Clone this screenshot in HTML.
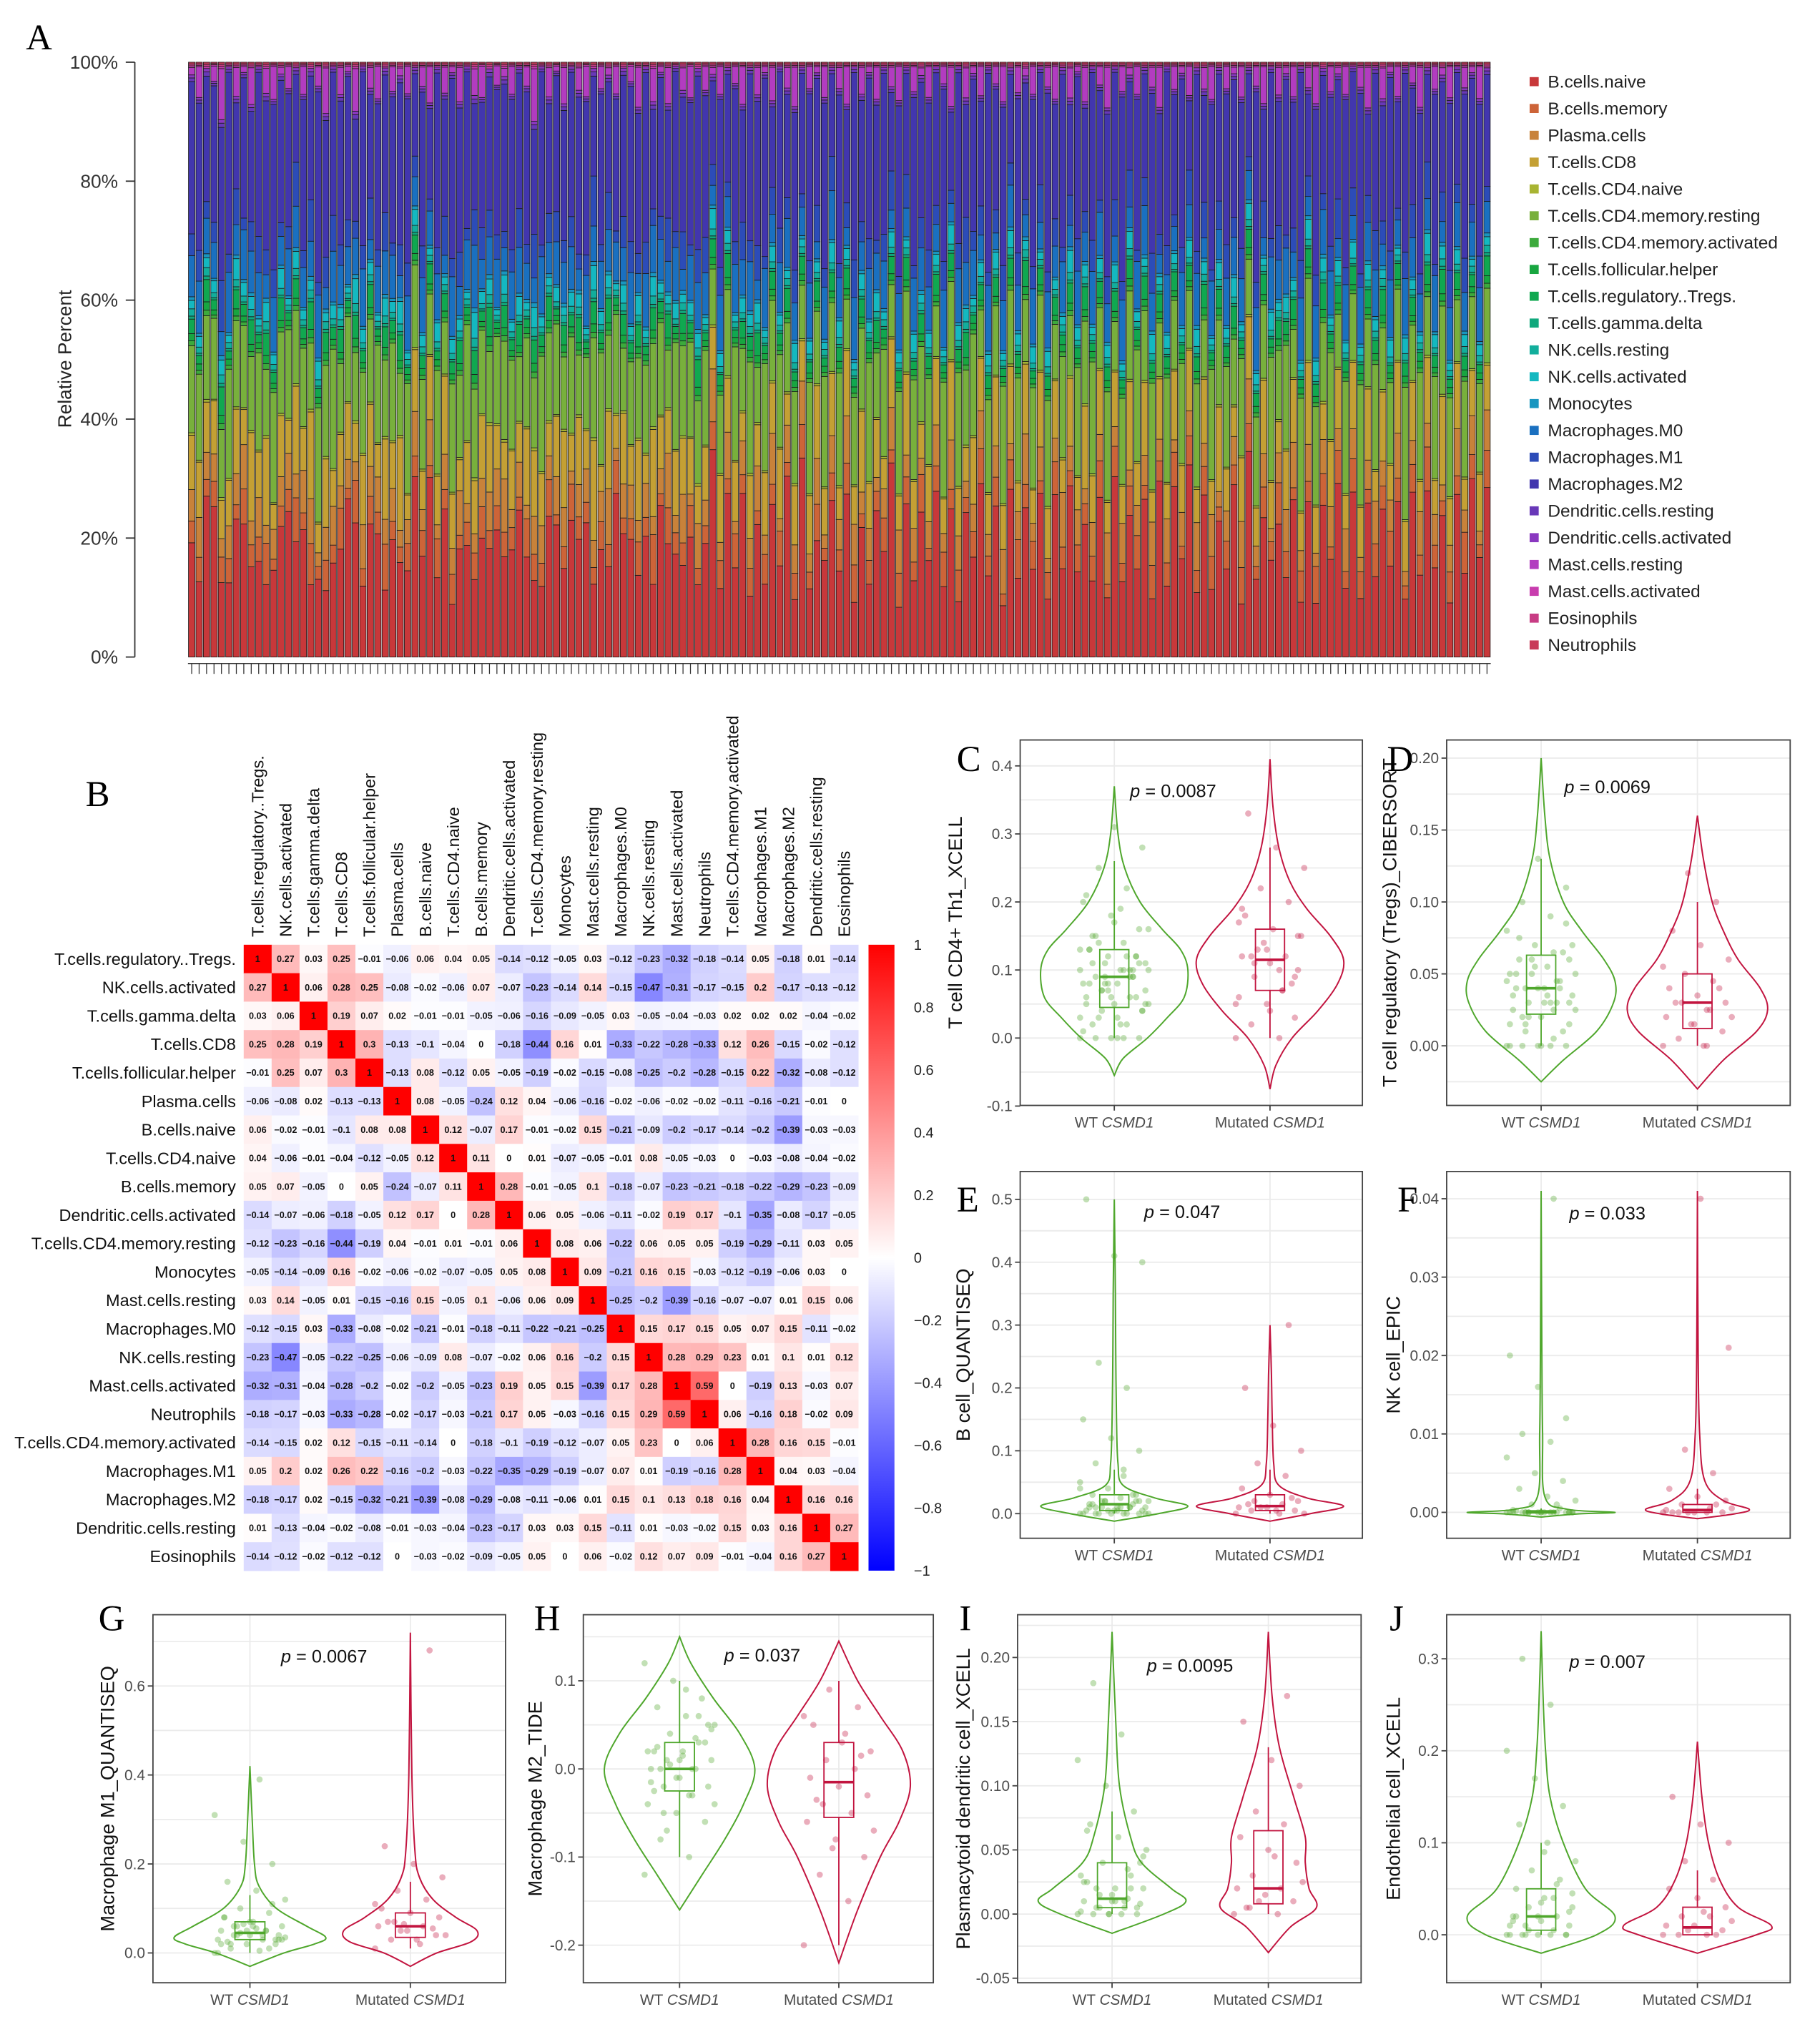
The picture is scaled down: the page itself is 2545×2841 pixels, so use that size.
<!DOCTYPE html>
<html><head><meta charset="utf-8"><style>
html,body{margin:0;padding:0;background:#fff}
svg{display:block}
</style></head><body>
<svg id="fig" width="2545" height="2841" viewBox="0 0 1404 1568" preserveAspectRatio="none" xmlns="http://www.w3.org/2000/svg" font-family="Liberation Sans, sans-serif">
<rect width="1404" height="1568" fill="#fff"/>
<g id="panelA"></g>
<g id="panelB"></g>
<g id="violins"></g>
</svg>
<script>
const NS="http://www.w3.org/2000/svg";
function mk(parent,tag,attrs,txt){const e=document.createElementNS(NS,tag);for(const k in attrs)e.setAttribute(k,attrs[k]);if(txt!==undefined)e.textContent=txt;parent.appendChild(e);return e;}
const SERIF="font-family:'Liberation Serif',serif";

/* ---------- Panel A data ---------- */
const cellTypes=["B.cells.naive","B.cells.memory","Plasma.cells","T.cells.CD8","T.cells.CD4.naive","T.cells.CD4.memory.resting","T.cells.CD4.memory.activated","T.cells.follicular.helper","T.cells.regulatory..Tregs.","T.cells.gamma.delta","NK.cells.resting","NK.cells.activated","Monocytes","Macrophages.M0","Macrophages.M1","Macrophages.M2","Dendritic.cells.resting","Dendritic.cells.activated","Mast.cells.resting","Mast.cells.activated","Eosinophils","Neutrophils"];
const typeColors=["#c8383a","#cd6438","#c8823a","#c4a034","#a8b432","#78b03c","#3caa3c","#18a640","#10a850","#10a87c","#12ae9c","#14b8c0","#1896c0","#1a70c0","#2c4cb8","#4236ae","#6838b8","#8a38c0","#b23cc0","#c83cae","#c83c84","#c83a58"];
const nSamples=175;
const sBn ="4358235634245746232448435625347483624526373564235736472538463527453625836472536472835463725364826354736254837263547283645372835462738492635472836453726254738263547283645273846";
const sBm ="2314231523412352413251423352142315241325142315234125231425134251432512341523142513425132451324153241352413524135241352142351423514235142351425314253142531425314253142531425314";
const sPl ="3524143625143526413524163524135261435214365241352641352461352413625143625143526143526143652413562413526413524613524136251436251435261435261436524135624135264135246135241362514";
const sCd8="4536245374625374625346275364725364752637452637452763547263547265374625374625364725367452637452637425637426537462537462537462537462537462537426537425637426537462537462537462";
const sCd4r="5647385647395746385947365847395647385947385746395847365948375647395847365947385746395847365947385746395847365947385746395847365947385746395847365947385746395847365947385746";
const sTr ="2132413241324132413241324132413241324132413241324132413241324132413241324132413241324132413241324132413241324132413241324132413241324132413241324132413241324132413241324132";
const sNk ="1213214321324132141321432132413214132143213241321413214321324132141321432132413214132143213241321413214321324132141321432132413214132143213241321413214321324132141321432132";
const sM0 ="3524162534162534261534261534162534162543261543162534162534261534261534162534162543261543162534162534261534261534162534162543261543162534162534261534261534162534162543261543";
const sM1 ="2413524135241352413524135241352413524135241352413524135241352413524135241352413524135241352413524135241352413524135241352413524135241352413524135241352413524135241352413524";
const sM2 ="6748593748596738495768394857693748596837495867394857693847596837495867394857693847596837495867394857693847596837495867394857693847596837495867394857693847596837495867394857";
const sMr ="1503604150361405036041503604150360415036041503604150360415036041503604150360415036041503604150360415036041503604150360415036041503604150360415036041503604150360415036041503";
const constShares=[0,0,0,0,0.004,0,0.008,0.012,0,0.005,0.012,0,0.006,0,0,0,0.006,0.005,0,0.003,0.003,0.003];
const yTicksA=[0,20,40,60,80,100];

(function(){
const g=document.getElementById('panelA');
const X0=145,X1=1150,Y0=507,Y1=48;
const bw=(X1-X0)/nSamples;
const ysc=v=>Y0-(Y0-Y1)*v;
const dig=(s,i)=>parseInt(s[i%s.length]);
let t=mk(g,'text',{x:20,y:38,'font-size':28,style:SERIF},'A');

for(let i=0;i<nSamples;i++){
  const v=constShares.slice();
  v[0]=(dig(sBn,i)+0.5)*0.042; v[1]=(dig(sBm,i)+1)*0.012; v[2]=(dig(sPl,i)+1)*0.013; v[3]=(dig(sCd8,i)+1)*0.018;
  v[5]=(dig(sCd4r,i)+1)*0.024; v[8]=(dig(sTr,i)+1)*0.008; v[11]=(dig(sNk,i)+1)*0.007;
  v[13]=(dig(sM0,i)+1)*0.017; v[14]=(dig(sM1,i)+1)*0.012; v[15]=(dig(sM2,i)+1)*0.036; v[18]=dig(sMr,i)*0.012;
  const tot=v.reduce((a,b)=>a+b,0);
  let cum=0;
  const bg=mk(g,'g',{});
  
  for(let k=0;k<22;k++){
    const f=v[k]/tot; if(f<=0)continue;
    const r=mk(bg,'rect',{x:X0+i*bw+0.4,y:ysc(cum+f),width:bw-0.8,height:(ysc(cum)-ysc(cum+f)),fill:typeColors[k],stroke:'#1a1a1a','stroke-width':0.45});
    
    cum+=f;
  }
  mk(g,'line',{x1:X0+(i+0.5)*bw,x2:X0+(i+0.5)*bw,y1:512,y2:520,stroke:'#333','stroke-width':0.7});
}
mk(g,'line',{x1:X0,x2:X1,y1:512,y2:512,stroke:'#333','stroke-width':0.8});
mk(g,'line',{x1:104,x2:104,y1:Y1,y2:Y0,stroke:'#333','stroke-width':1});
yTicksA.forEach(p=>{const y=ysc(p/100);mk(g,'line',{x1:97,x2:104,y1:y,y2:y,stroke:'#333','stroke-width':1});
 const tt=mk(g,'text',{x:91,y:y+5,'text-anchor':'end','font-size':14.5,fill:'#333'},p+'%');
 });
const yl=mk(g,'text',{x:0,y:0,transform:'translate(55,277) rotate(-90)','text-anchor':'middle','font-size':14.5,fill:'#222'},'Relative Percent');

const lg=mk(g,'g',{});
cellTypes.forEach((n,k)=>{const y=63+k*20.7;
 const e=mk(lg,'g',{});
 mk(e,'rect',{x:1180,y:y-3.5,width:7,height:7,fill:typeColors[k]});
 mk(e,'text',{x:1194,y:y+4.5,'font-size':13.5,fill:'#222'},n);});
})();

/* ---------- Panel B data ---------- */
const corrLabels=["T.cells.regulatory..Tregs.","NK.cells.activated","T.cells.gamma.delta","T.cells.CD8","T.cells.follicular.helper","Plasma.cells","B.cells.naive","T.cells.CD4.naive","B.cells.memory","Dendritic.cells.activated","T.cells.CD4.memory.resting","Monocytes","Mast.cells.resting","Macrophages.M0","NK.cells.resting","Mast.cells.activated","Neutrophils","T.cells.CD4.memory.activated","Macrophages.M1","Macrophages.M2","Dendritic.cells.resting","Eosinophils"];
const corrRows=[
[1,0.27,0.03,0.25,-0.01,-0.06,0.06,0.04,0.05,-0.14,-0.12,-0.05,0.03,-0.12,-0.23,-0.32,-0.18,-0.14,0.05,-0.18,0.01,-0.14],
[0.27,1,0.06,0.28,0.25,-0.08,-0.02,-0.06,0.07,-0.07,-0.23,-0.14,0.14,-0.15,-0.47,-0.31,-0.17,-0.15,0.2,-0.17,-0.13,-0.12],
[0.03,0.06,1,0.19,0.07,0.02,-0.01,-0.01,-0.05,-0.06,-0.16,-0.09,-0.05,0.03,-0.05,-0.04,-0.03,0.02,0.02,0.02,-0.04,-0.02],
[0.25,0.28,0.19,1,0.3,-0.13,-0.1,-0.04,0,-0.18,-0.44,0.16,0.01,-0.33,-0.22,-0.28,-0.33,0.12,0.26,-0.15,-0.02,-0.12],
[-0.01,0.25,0.07,0.3,1,-0.13,0.08,-0.12,0.05,-0.05,-0.19,-0.02,-0.15,-0.08,-0.25,-0.2,-0.28,-0.15,0.22,-0.32,-0.08,-0.12],
[-0.06,-0.08,0.02,-0.13,-0.13,1,0.08,-0.05,-0.24,0.12,0.04,-0.06,-0.16,-0.02,-0.06,-0.02,-0.02,-0.11,-0.16,-0.21,-0.01,0],
[0.06,-0.02,-0.01,-0.1,0.08,0.08,1,0.12,-0.07,0.17,-0.01,-0.02,0.15,-0.21,-0.09,-0.2,-0.17,-0.14,-0.2,-0.39,-0.03,-0.03],
[0.04,-0.06,-0.01,-0.04,-0.12,-0.05,0.12,1,0.11,0,0.01,-0.07,-0.05,-0.01,0.08,-0.05,-0.03,0,-0.03,-0.08,-0.04,-0.02],
[0.05,0.07,-0.05,0,0.05,-0.24,-0.07,0.11,1,0.28,-0.01,-0.05,0.1,-0.18,-0.07,-0.23,-0.21,-0.18,-0.22,-0.29,-0.23,-0.09],
[-0.14,-0.07,-0.06,-0.18,-0.05,0.12,0.17,0,0.28,1,0.06,0.05,-0.06,-0.11,-0.02,0.19,0.17,-0.1,-0.35,-0.08,-0.17,-0.05],
[-0.12,-0.23,-0.16,-0.44,-0.19,0.04,-0.01,0.01,-0.01,0.06,1,0.08,0.06,-0.22,0.06,0.05,0.05,-0.19,-0.29,-0.11,0.03,0.05],
[-0.05,-0.14,-0.09,0.16,-0.02,-0.06,-0.02,-0.07,-0.05,0.05,0.08,1,0.09,-0.21,0.16,0.15,-0.03,-0.12,-0.19,-0.06,0.03,0],
[0.03,0.14,-0.05,0.01,-0.15,-0.16,0.15,-0.05,0.1,-0.06,0.06,0.09,1,-0.25,-0.2,-0.39,-0.16,-0.07,-0.07,0.01,0.15,0.06],
[-0.12,-0.15,0.03,-0.33,-0.08,-0.02,-0.21,-0.01,-0.18,-0.11,-0.22,-0.21,-0.25,1,0.15,0.17,0.15,0.05,0.07,0.15,-0.11,-0.02],
[-0.23,-0.47,-0.05,-0.22,-0.25,-0.06,-0.09,0.08,-0.07,-0.02,0.06,0.16,-0.2,0.15,1,0.28,0.29,0.23,0.01,0.1,0.01,0.12],
[-0.32,-0.31,-0.04,-0.28,-0.2,-0.02,-0.2,-0.05,-0.23,0.19,0.05,0.15,-0.39,0.17,0.28,1,0.59,0,-0.19,0.13,-0.03,0.07],
[-0.18,-0.17,-0.03,-0.33,-0.28,-0.02,-0.17,-0.03,-0.21,0.17,0.05,-0.03,-0.16,0.15,0.29,0.59,1,0.06,-0.16,0.18,-0.02,0.09],
[-0.14,-0.15,0.02,0.12,-0.15,-0.11,-0.14,0,-0.18,-0.1,-0.19,-0.12,-0.07,0.05,0.23,0,0.06,1,0.28,0.16,0.15,-0.01],
[0.05,0.2,0.02,0.26,0.22,-0.16,-0.2,-0.03,-0.22,-0.35,-0.29,-0.19,-0.07,0.07,0.01,-0.19,-0.16,0.28,1,0.04,0.03,-0.04],
[-0.18,-0.17,0.02,-0.15,-0.32,-0.21,-0.39,-0.08,-0.29,-0.08,-0.11,-0.06,0.01,0.15,0.1,0.13,0.18,0.16,0.04,1,0.16,0.16],
[0.01,-0.13,-0.04,-0.02,-0.08,-0.01,-0.03,-0.04,-0.23,-0.17,0.03,0.03,0.15,-0.11,0.01,-0.03,-0.02,0.15,0.03,0.16,1,0.27],
[-0.14,-0.12,-0.02,-0.12,-0.12,0,-0.03,-0.02,-0.09,-0.05,0.05,0,0.06,-0.02,0.12,0.07,0.09,-0.01,-0.04,0.16,0.27,1]];
const cbarTicks=[1,0.8,0.6,0.4,0.2,0,-0.2,-0.4,-0.6,-0.8,-1];

(function(){
const g=document.getElementById('panelB');
const X0=188,X1=662,Y0=729,Y1=1212,n=corrLabels.length;
const cw=(X1-X0)/n,ch=(Y1-Y0)/n;
function col(v){const a=Math.min(1,Math.abs(v));const c=Math.round(255*(1-a));return v>=0?`rgb(255,${c},${c})`:`rgb(${c},${c},255)`;}
let t=mk(g,'text',{x:66,y:622,'font-size':28,style:SERIF},'B');

corrRows.forEach((row,i)=>{row.forEach((v,j)=>{
  const r=mk(g,'rect',{x:X0+j*cw,y:Y0+i*ch,width:cw+0.3,height:ch+0.3,fill:col(v)});
  
  mk(g,'text',{x:X0+(j+0.5)*cw,y:Y0+(i+0.5)*ch+2.4,'text-anchor':'middle','font-size':7,'font-weight':'bold',fill:'#111'},String(v).replace('-','\u2212'));
});});
corrLabels.forEach((n2,i)=>{
  const a=mk(g,'text',{x:182,y:Y0+(i+0.5)*ch+4.5,'text-anchor':'end','font-size':13,fill:'#111'},n2);
  
  const b=mk(g,'text',{x:0,y:0,transform:`translate(${X0+(i+0.5)*cw+4.5},723) rotate(-90)`,'font-size':13,fill:'#111'},n2);
  
});
const defs=mk(g,'defs',{});const lgd=mk(defs,'linearGradient',{id:'cbg',x1:0,y1:0,x2:0,y2:1});
mk(lgd,'stop',{offset:'0','stop-color':'#ff0000'});mk(lgd,'stop',{offset:'0.5','stop-color':'#ffffff'});mk(lgd,'stop',{offset:'1','stop-color':'#0000ff'});
const cb=mk(g,'rect',{x:670,y:Y0,width:20,height:Y1-Y0,fill:'url(#cbg)'});

cbarTicks.forEach(v=>{const y=Y0+(1-v)/2*(Y1-Y0);
  mk(g,'text',{x:705,y:y+4,'font-size':11,fill:'#222'},String(v).replace('-','\u2212'));});
})();

/* ---------- Violin panel data ---------- */
const groupLabels=["WT","Mutated"];
const pValues=["0.0087","0.0069","0.047","0.033","0.0067","0.037","0.0095","0.007"];
const yTitles=["T cell CD4+ Th1_XCELL","T cell regulatory (Tregs)_CIBERSORT","B cell_QUANTISEQ","NK cell_EPIC","Macrophage M1_QUANTISEQ","Macrophage M2_TIDE","Plasmacytoid dendritic cell_XCELL","Endothelial cell_XCELL"];
const ticksC=[-0.1,0,0.1,0.2,0.3,0.4], ticksD=[0,0.05,0.1,0.15,0.2], ticksE=[0,0.1,0.2,0.3,0.4,0.5], ticksF=[0,0.01,0.02,0.03,0.04];
const ticksG=[0,0.2,0.4,0.6], ticksH=[-0.2,-0.1,0,0.1], ticksI=[-0.05,0,0.05,0.1,0.15,0.2], ticksJ=[0,0.1,0.2,0.3];
const tickTextC=["-0.1","0.0","0.1","0.2","0.3","0.4"],tickTextD=["0.00","0.05","0.10","0.15","0.20"],tickTextE=["0.0","0.1","0.2","0.3","0.4","0.5"],tickTextF=["0.00","0.01","0.02","0.03","0.04"],tickTextG=["0.0","0.2","0.4","0.6"],tickTextH=["-0.2","-0.1","0.0","0.1"],tickTextI=["-0.05","0.00","0.05","0.10","0.15","0.20"],tickTextJ=["0.0","0.1","0.2","0.3"];
const C_wtV=[-0.055,-0.03,0,0.03,0.06,0.1,0.13,0.16,0.2,0.25,0.3,0.37], C_wtW=[0,0.12,0.45,0.72,0.95,1,0.9,0.65,0.35,0.14,0.05,0];
const C_muV=[-0.075,-0.04,0,0.04,0.08,0.115,0.15,0.19,0.23,0.28,0.34,0.41], C_muW=[0,0.08,0.3,0.65,0.92,1,0.82,0.5,0.27,0.12,0.04,0];
const D_wtV=[-0.025,-0.01,0.01,0.03,0.045,0.06,0.08,0.1,0.13,0.16,0.2], D_wtW=[0,0.3,0.75,0.98,1,0.85,0.55,0.3,0.12,0.05,0];
const D_muV=[-0.03,-0.01,0.01,0.025,0.04,0.06,0.08,0.1,0.13,0.16], D_muW=[0,0.35,0.8,0.95,0.85,0.55,0.35,0.2,0.08,0];
const E_wtV=[-0.012,0,0.012,0.025,0.045,0.08,0.15,0.25,0.35,0.5], E_wtW=[0,0.6,1,0.55,0.12,0.05,0.03,0.02,0.015,0];
const E_muV=[-0.012,0,0.012,0.025,0.045,0.08,0.15,0.22,0.3], E_muW=[0,0.55,1,0.5,0.12,0.05,0.03,0.02,0];
const F_wtV=[-0.0006,-0.0002,0,0.0004,0.002,0.01,0.02,0.041], F_wtW=[0,0.5,1,0.35,0.05,0.02,0.01,0];
const F_muV=[-0.0008,-0.0002,0.0004,0.0015,0.004,0.01,0.02,0.041], F_muW=[0,0.5,0.7,0.35,0.1,0.03,0.01,0];
const G_wtV=[-0.03,0,0.02,0.035,0.06,0.1,0.15,0.2,0.3,0.42], G_wtW=[0,0.45,0.85,1,0.75,0.35,0.12,0.06,0.03,0];
const G_muV=[-0.03,0,0.025,0.05,0.08,0.12,0.17,0.23,0.4,0.72], G_muW=[0,0.35,0.8,0.88,0.6,0.3,0.12,0.06,0.02,0];
const H_wtV=[-0.16,-0.12,-0.08,-0.04,0,0.04,0.08,0.12,0.15], H_wtW=[0,0.3,0.6,0.85,1,0.8,0.45,0.15,0];
const H_muV=[-0.22,-0.16,-0.1,-0.06,-0.02,0.02,0.06,0.1,0.145], H_muW=[0,0.25,0.55,0.8,0.95,0.85,0.55,0.25,0];
const I_wtV=[-0.015,0,0.01,0.02,0.04,0.06,0.1,0.15,0.22], I_wtW=[0,0.7,1,0.8,0.4,0.25,0.1,0.05,0];
const I_muV=[-0.03,-0.01,0.005,0.02,0.04,0.06,0.09,0.13,0.17,0.22], I_muW=[0,0.3,0.65,0.55,0.5,0.5,0.35,0.15,0.05,0];
const J_wtV=[-0.02,0,0.02,0.05,0.1,0.15,0.2,0.25,0.33], J_wtW=[0,0.75,1,0.6,0.3,0.12,0.06,0.03,0];
const J_muV=[-0.02,0,0.01,0.03,0.06,0.1,0.15,0.21], J_muW=[0,0.8,1,0.55,0.3,0.15,0.06,0];
const C_wtBox=[0,0.045,0.09,0.13,0.26], C_muBox=[0,0.07,0.115,0.16,0.28];
const D_wtBox=[0,0.022,0.04,0.063,0.13], D_muBox=[0,0.012,0.03,0.05,0.1];
const E_wtBox=[0,0.005,0.015,0.03,0.07], E_muBox=[0,0.005,0.012,0.03,0.07];
const F_wtBox=[0,0,0,0.0002,0.0005], F_muBox=[0,0,0.0003,0.001,0.003];
const G_wtBox=[0,0.03,0.045,0.07,0.13], G_muBox=[0.01,0.035,0.06,0.09,0.16];
const H_wtBox=[-0.1,-0.025,0,0.03,0.1], H_muBox=[-0.2,-0.055,-0.015,0.03,0.1];
const I_wtBox=[0,0.005,0.012,0.04,0.08], I_muBox=[0,0.008,0.02,0.065,0.13];
const J_wtBox=[0,0.005,0.02,0.05,0.1], J_muBox=[0,0,0.008,0.03,0.07];
const C_wtPts=[0,0,0,0,0,0.01,0.02,0.03,0.04,0.05,0.05,0.06,0.07,0.07,0.08,0.08,0.09,0.09,0.1,0.1,0.11,0.12,0.12,0.13,0.14,0.15,0.16,0.18,0.2,0.22,0.25,0.28,0.31,0.06,0.09,0.04,0.11,0.0,0.13,0.1,0.08,0.05,0.02,0.15,0.12,0.07,0.03,0.1,0.09,0.11,0.06,0.08,0.12,0.14,0.04,0.17,0.21,0.1,0.07,0.05,0.03,0.13,0.09,0.11,0.16,0.19,0.02,0.06,0.08,0.1];
const C_muPts=[0,0,0.02,0.03,0.05,0.06,0.07,0.09,0.1,0.11,0.12,0.12,0.13,0.15,0.16,0.18,0.2,0.22,0.25,0.28,0.33,0.08,0.14,0.05,0.1,0.12,0.09,0.13,0.17,0.07,0.11,0.15,0.04,0.19];
const D_wtPts=[0,0,0,0,0,0,0.005,0.01,0.015,0.02,0.025,0.03,0.03,0.035,0.04,0.04,0.045,0.05,0.05,0.055,0.06,0.065,0.07,0.08,0.09,0.1,0.11,0.13,0.015,0.025,0.04,0.06,0.0,0.035,0.045,0.02,0.07,0.03,0.05,0.04,0.06,0.025,0.035,0.075,0.01,0.055,0.045,0.03,0.02,0.085,0.04,0.05,0.065,0.015,0.03];
const D_muPts=[0,0,0.005,0.01,0.015,0.02,0.025,0.03,0.03,0.035,0.04,0.045,0.05,0.06,0.07,0.08,0.1,0.12,0.02,0.0,0.03,0.04,0.015,0.055,0.025];
const E_wtPts=[0,0,0,0,0,0,0,0,0.005,0.005,0.005,0.01,0.01,0.01,0.01,0.015,0.015,0.02,0.02,0.025,0.03,0.03,0.04,0.05,0.06,0.08,0.1,0.12,0.15,0.2,0.24,0.4,0.41,0.5,0.01,0.02,0.0,0.005,0.01,0.03,0.02,0.0,0.01,0.015,0.02,0.005,0.04,0.07,0.01,0.02];
const E_muPts=[0,0,0.005,0.005,0.01,0.01,0.015,0.02,0.02,0.03,0.04,0.06,0.08,0.1,0.14,0.2,0.3,0.01,0.0,0.005,0.015,0.025];
const F_wtPts=[0,0,0,0,0,0,0,0,0,0,0,0,0,0,0,0.0002,0.0005,0.001,0.0015,0.002,0.003,0.004,0.005,0.007,0.009,0.01,0.012,0.016,0.02,0.04,0,0,0,0.0003,0.001,0,0];
const F_muPts=[0,0,0,0,0,0.0003,0.0005,0.001,0.0015,0.002,0.003,0.005,0.008,0.021,0.04,0,0.001,0,0.0005];
const G_wtPts=[0,0.005,0.01,0.02,0.02,0.03,0.03,0.04,0.04,0.04,0.05,0.05,0.06,0.06,0.07,0.08,0.09,0.1,0.12,0.14,0.16,0.2,0.25,0.31,0.39,0.02,0.03,0.05,0.0,0.04,0.06,0.03,0.07,0.02,0.05,0.04,0.03,0.06,0.08,0.01,0.045,0.035,0.055,0.025,0.11,0.065];
const G_muPts=[0.01,0.02,0.03,0.04,0.05,0.06,0.06,0.07,0.08,0.09,0.1,0.12,0.14,0.17,0.2,0.24,0.68,0.05,0.04,0.03,0.07,0.055,0.065,0.11];
const H_wtPts=[-0.12,-0.1,-0.08,-0.06,-0.05,-0.04,-0.03,-0.02,-0.02,-0.01,0,0,0.01,0.01,0.02,0.02,0.03,0.04,0.05,0.06,0.07,0.08,0.1,0.12,-0.03,0.0,0.03,-0.01,0.02,0.0,-0.05,0.05,0.01,-0.015,0.035,-0.07,0.045,0.015,-0.025,0.06,0.005,-0.04,0.09,0.025];
const H_muPts=[-0.2,-0.15,-0.12,-0.1,-0.08,-0.06,-0.05,-0.04,-0.03,-0.02,-0.01,0,0.01,0.02,0.03,0.05,0.07,0.09,-0.07,0.04,-0.035,0.015,-0.09,0.06];
const I_wtPts=[0,0,0,0,0,0.002,0.005,0.005,0.008,0.01,0.01,0.012,0.015,0.02,0.02,0.025,0.03,0.04,0.05,0.06,0.07,0.08,0.1,0.12,0.14,0.18,0.005,0.0,0.03,0.01,0.02,0.04,0.015,0.025,0.035,0.005,0.045,0.01,0.065,0.02];
const I_muPts=[0,0,0.005,0.01,0.015,0.02,0.02,0.03,0.04,0.05,0.06,0.07,0.08,0.1,0.12,0.15,0.17,0.01,0.025,0.045,0.005];
const J_wtPts=[0,0,0,0,0,0,0.005,0.01,0.01,0.015,0.02,0.02,0.03,0.03,0.04,0.05,0.06,0.07,0.08,0.1,0.12,0.14,0.17,0.2,0.25,0.3,0.0,0.02,0.01,0.04,0.0,0.025,0.035,0.015,0.055,0.005,0.045,0.09,0.02];
const J_muPts=[0,0,0,0.005,0.01,0.01,0.02,0.02,0.03,0.04,0.05,0.06,0.08,0.1,0.12,0.15,0.0,0.005,0.015,0.025];

(function(){
const root=document.getElementById('violins');
const GREEN='#4fa72c',RED='#c2143f';
const panels=[
 {L:'C',lx:738,ly:595,x0:787,x1:1051,y0:571,y1:853,t:[0,801,0.1,748.5],ticks:ticksC,tt:tickTextC,tx:742,p:[905,615],d:[[C_wtV,C_wtW,C_wtBox,C_wtPts],[C_muV,C_muW,C_muBox,C_muPts]]},
 {L:'D',lx:1070,ly:595,x0:1116,x1:1381,y0:571,y1:853,t:[0,807,0.1,696],ticks:ticksD,tt:tickTextD,tx:1077,p:[1240,612],d:[[D_wtV,D_wtW,D_wtBox,D_wtPts],[D_muV,D_muW,D_muBox,D_muPts]]},
 {L:'E',lx:738,ly:935,x0:787,x1:1051,y0:904,y1:1187,t:[0,1168,0.1,1119.5],ticks:ticksE,tt:tickTextE,tx:748,p:[912,940],d:[[E_wtV,E_wtW,E_wtBox,E_wtPts],[E_muV,E_muW,E_muBox,E_muPts]]},
 {L:'F',lx:1078,ly:935,x0:1116,x1:1381,y0:904,y1:1187,t:[0,1167,0.04,925],ticks:ticksF,tt:tickTextF,tx:1080,p:[1240,941],d:[[F_wtV,F_wtW,F_wtBox,F_wtPts],[F_muV,F_muW,F_muBox,F_muPts]]},
 {L:'G',lx:76,ly:1258,x0:118,x1:390,y0:1246,y1:1530,t:[0,1507,0.6,1301],ticks:ticksG,tt:tickTextG,tx:88,p:[250,1283],d:[[G_wtV,G_wtW,G_wtBox,G_wtPts],[G_muV,G_muW,G_muBox,G_muPts]]},
 {L:'H',lx:412,ly:1258,x0:450,x1:720,y0:1246,y1:1530,t:[0,1365,0.1,1297],ticks:ticksH,tt:tickTextH,tx:418,p:[588,1282],d:[[H_wtV,H_wtW,H_wtBox,H_wtPts],[H_muV,H_muW,H_muBox,H_muPts]]},
 {L:'I',lx:740,ly:1258,x0:785,x1:1050,y0:1246,y1:1530,t:[0,1477,0.2,1279],ticks:ticksI,tt:tickTextI,tx:748,p:[918,1290],d:[[I_wtV,I_wtW,I_wtBox,I_wtPts],[I_muV,I_muW,I_muBox,I_muPts]]},
 {L:'J',lx:1072,ly:1258,x0:1116,x1:1381,y0:1246,y1:1530,t:[0,1493,0.3,1280],ticks:ticksJ,tt:tickTextJ,tx:1080,p:[1240,1287],d:[[J_wtV,J_wtW,J_wtBox,J_wtPts],[J_muV,J_muW,J_muBox,J_muPts]]}
];
function smooth(pts){let d=`M${pts[0][0]},${pts[0][1]}`;
  for(let i=0;i<pts.length-1;i++){const p0=pts[Math.max(0,i-1)],p1=pts[i],p2=pts[i+1],p3=pts[Math.min(pts.length-1,i+2)];
   const c1=[p1[0]+(p2[0]-p0[0])/6,p1[1]+(p2[1]-p0[1])/6],c2=[p2[0]-(p3[0]-p1[0])/6,p2[1]-(p3[1]-p1[1])/6];
   d+=`C${c1[0]},${c1[1]} ${c2[0]},${c2[1]} ${p2[0]},${p2[1]}`;}
  return d;}
panels.forEach((P,pi)=>{
  const g=mk(root,'g',{});
  
  
  const k=(P.t[3]-P.t[1])/(P.t[2]-P.t[0]);
  const Y=v=>P.t[1]+(v-P.t[0])*k;
  const W=P.x1-P.x0, cx=[P.x0+W*0.275,P.x0+W*0.73], half=W*0.215;
  mk(g,'rect',{x:P.x0,y:P.y0,width:W,height:P.y1-P.y0,fill:'#fff'});
  const tk=P.ticks;const step=tk[1]-tk[0];
  for(let v=tk[0]-step/2;v<=tk[tk.length-1]+step;v+=step/2){const y=Y(v);if(y<P.y0+1||y>P.y1-1)continue;
    mk(g,'line',{x1:P.x0,x2:P.x1,y1:y,y2:y,stroke:'#ebebeb','stroke-width':1});}
  cx.forEach(x=>mk(g,'line',{x1:x,x2:x,y1:P.y0,y2:P.y1,stroke:'#ebebeb','stroke-width':1}));
  mk(g,'rect',{x:P.x0,y:P.y0,width:W,height:P.y1-P.y0,fill:'none',stroke:'#444','stroke-width':1});
  tk.forEach((v,i)=>{const y=Y(v);mk(g,'line',{x1:P.x0-4,x2:P.x0,y1:y,y2:y,stroke:'#444'});
    mk(g,'text',{x:P.x0-6,y:y+4,'text-anchor':'end','font-size':11.5,fill:'#4d4d4d'},P.tt[i]);});
  cx.forEach((x,gi)=>{mk(g,'line',{x1:x,x2:x,y1:P.y1,y2:P.y1+4,stroke:'#444'});
    const tl=mk(g,'text',{x:x,y:P.y1+17,'text-anchor':'middle','font-size':11.5,fill:'#4d4d4d'});
    
    mk(tl,'tspan',{},groupLabels[gi]+' ');mk(tl,'tspan',{'font-style':'italic'},'CSMD1');});
  const yt=mk(g,'text',{x:0,y:0,transform:`translate(${P.tx},${(P.y0+P.y1)/2}) rotate(-90)`,'text-anchor':'middle','font-size':15,fill:'#111'},yTitles[pi]);
  
  const pl=mk(g,'text',{x:P.p[0],y:P.p[1],'text-anchor':'middle','font-size':14,fill:'#111'});
  
  mk(pl,'tspan',{'font-style':'italic'},'p');mk(pl,'tspan',{},' = '+pValues[pi]);
  const lab=mk(g,'text',{x:P.lx,y:P.ly,'font-size':28,style:SERIF},P.L);
  
  P.d.forEach((D,gi)=>{
    const [vals,ws,box,pts]=D;const c=gi?RED:GREEN;const x=cx[gi];
    const right=vals.map((v,i)=>[x+ws[i]*half,Y(v)]);
    const left=vals.map((v,i)=>[x-ws[i]*half,Y(v)]).reverse();
    const vp=mk(g,'path',{d:smooth(right)+' '+smooth(left).replace('M','L')+'Z',fill:'none',stroke:c,'stroke-width':1.1});
    
    pts.forEach((v,i)=>{const jx=((i*37)%23)/22-0.5;
      const pt=mk(g,'circle',{cx:x+jx*W*0.2,cy:Y(v),r:2.4,fill:c,'fill-opacity':0.35});
      });
    const bw=W*0.085;
    mk(g,'line',{x1:x,x2:x,y1:Y(box[0]),y2:Y(box[1]),stroke:c,'stroke-width':1});
    mk(g,'line',{x1:x,x2:x,y1:Y(box[3]),y2:Y(box[4]),stroke:c,'stroke-width':1});
    const br=mk(g,'rect',{x:x-bw/2,y:Y(box[3]),width:bw,height:Math.max(0.5,Y(box[1])-Y(box[3])),fill:'none',stroke:c,'stroke-width':1});
    
    mk(g,'line',{x1:x-bw/2,x2:x+bw/2,y1:Y(box[2]),y2:Y(box[2]),stroke:c,'stroke-width':2});
  });
});
})();
</script>
</body></html>
